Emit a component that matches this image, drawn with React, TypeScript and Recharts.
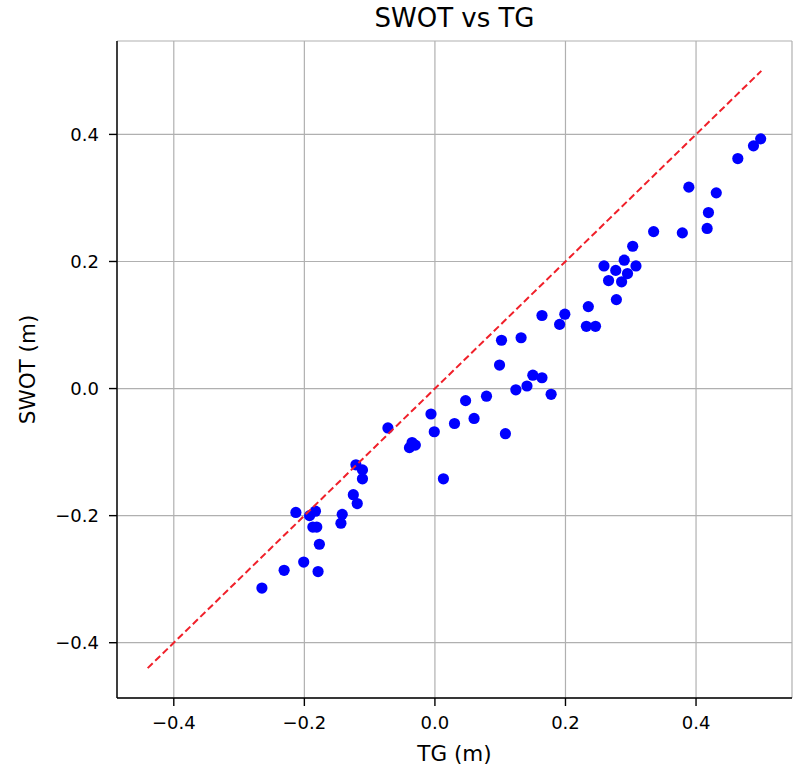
import { ScatterChart, Scatter, XAxis, YAxis, CartesianGrid } from 'recharts';

// tide gauge (x) vs SWOT (y), metres
const tgValues = [
  -0.265, -0.231, -0.201, -0.179, -0.177, -0.213, -0.192, -0.183, -0.187, -0.181,
  -0.142, -0.144, -0.125, -0.119, -0.121, -0.111, -0.111, -0.072, -0.039, -0.035,
  -0.03, -0.006, -0.001, 0.013, 0.03, 0.047, 0.06, 0.079, 0.102, 0.099,
  0.108, 0.124, 0.132, 0.141, 0.15, 0.164, 0.178, 0.164, 0.191, 0.199,
  0.235, 0.232, 0.246, 0.278, 0.266, 0.286, 0.259, 0.277, 0.295, 0.29,
  0.308, 0.303, 0.335, 0.379, 0.389, 0.417, 0.419, 0.431, 0.464, 0.488, 0.499,
];
const swotValues = [
  -0.314, -0.286, -0.273, -0.288, -0.245, -0.195, -0.2, -0.193, -0.218, -0.218,
  -0.198, -0.212, -0.167, -0.181, -0.12, -0.128, -0.142, -0.062, -0.093, -0.085,
  -0.089, -0.04, -0.068, -0.142, -0.055, -0.019, -0.047, -0.012, 0.076, 0.037,
  -0.071, -0.002, 0.08, 0.004, 0.021, 0.017, -0.009, 0.115, 0.101, 0.117,
  0.129, 0.098, 0.098, 0.14, 0.17, 0.168, 0.193, 0.186, 0.181, 0.202,
  0.193, 0.224, 0.247, 0.245, 0.317, 0.252, 0.277, 0.308, 0.362, 0.382, 0.393,
];
// 1:1 line ends
const oneToOne = [-0.44, 0.5];
const tickValues = [-0.4, -0.2, 0, 0.2, 0.4];
const axisDomain: [number, number] = [-0.487, 0.547];

const points = tgValues.map((tg, i) => ({ x: tg, y: swotValues[i] }));
const lineData = oneToOne.map((v) => ({ x: v, y: v }));

const FONT = '"DejaVu Sans", sans-serif';
const fmt = (v: number) => v.toFixed(1).replace('-', '\u2212');
const frame = { stroke: '#000', strokeWidth: 1.4 };

export default function App() {
  return (
    <div style={{ position: 'absolute', left: 0, top: 0, width: 794, height: 771, background: '#fff', fontFamily: FONT }}>
      <div
        style={{
          position: 'absolute',
          left: 117,
          width: 675,
          top: 3,
          textAlign: 'center',
          fontSize: 26,
          lineHeight: '30px',
          color: '#000',
        }}
      >
        SWOT vs TG
      </div>
      <ScatterChart width={794} height={771} margin={{ top: 41, right: 2, bottom: 0, left: 0 }}>
        <CartesianGrid stroke="#b0b0b0" strokeWidth={1.2} />
        <XAxis
          type="number"
          dataKey="x"
          domain={axisDomain}
          ticks={tickValues}
          tickFormatter={fmt}
          allowDataOverflow
          height={73}
          tickSize={8}
          tickMargin={10}
          axisLine={frame}
          tickLine={frame}
          tick={{ fill: '#000', fontSize: 18, fontFamily: FONT }}
          label={{ value: 'TG (m)', position: 'insideBottom', offset: 10, fill: '#000', fontSize: 21.5, fontFamily: FONT }}
        />
        <XAxis xAxisId="top" orientation="top" type="number" dataKey="x" domain={axisDomain} height={0} tick={false} tickLine={false} axisLine={frame} />
        <YAxis
          type="number"
          dataKey="y"
          domain={axisDomain}
          ticks={tickValues}
          tickFormatter={fmt}
          allowDataOverflow
          width={117}
          tickSize={8}
          tickMargin={10}
          axisLine={frame}
          tickLine={frame}
          tick={{ fill: '#000', fontSize: 18, fontFamily: FONT }}
          label={{
            value: 'SWOT (m)',
            angle: -90,
            position: 'insideLeft',
            offset: 27,
            fill: '#000',
            fontSize: 21.5,
            fontFamily: FONT,
            style: { textAnchor: 'middle' },
          }}
        />
        <YAxis yAxisId="right" orientation="right" type="number" dataKey="y" domain={axisDomain} width={0} tick={false} tickLine={false} axisLine={frame} />
        <Scatter
          data={points}
          isAnimationActive={false}
          shape={(p: any) => <circle cx={p.cx} cy={p.cy} r={5.6} fill="#0000ff" />}
        />
        <Scatter
          data={lineData}
          isAnimationActive={false}
          line={{ stroke: '#f0202a', strokeWidth: 2, strokeDasharray: '7 3.5' }}
          lineType="joint"
          shape={() => <g />}
        />
      </ScatterChart>
    </div>
  );
}
